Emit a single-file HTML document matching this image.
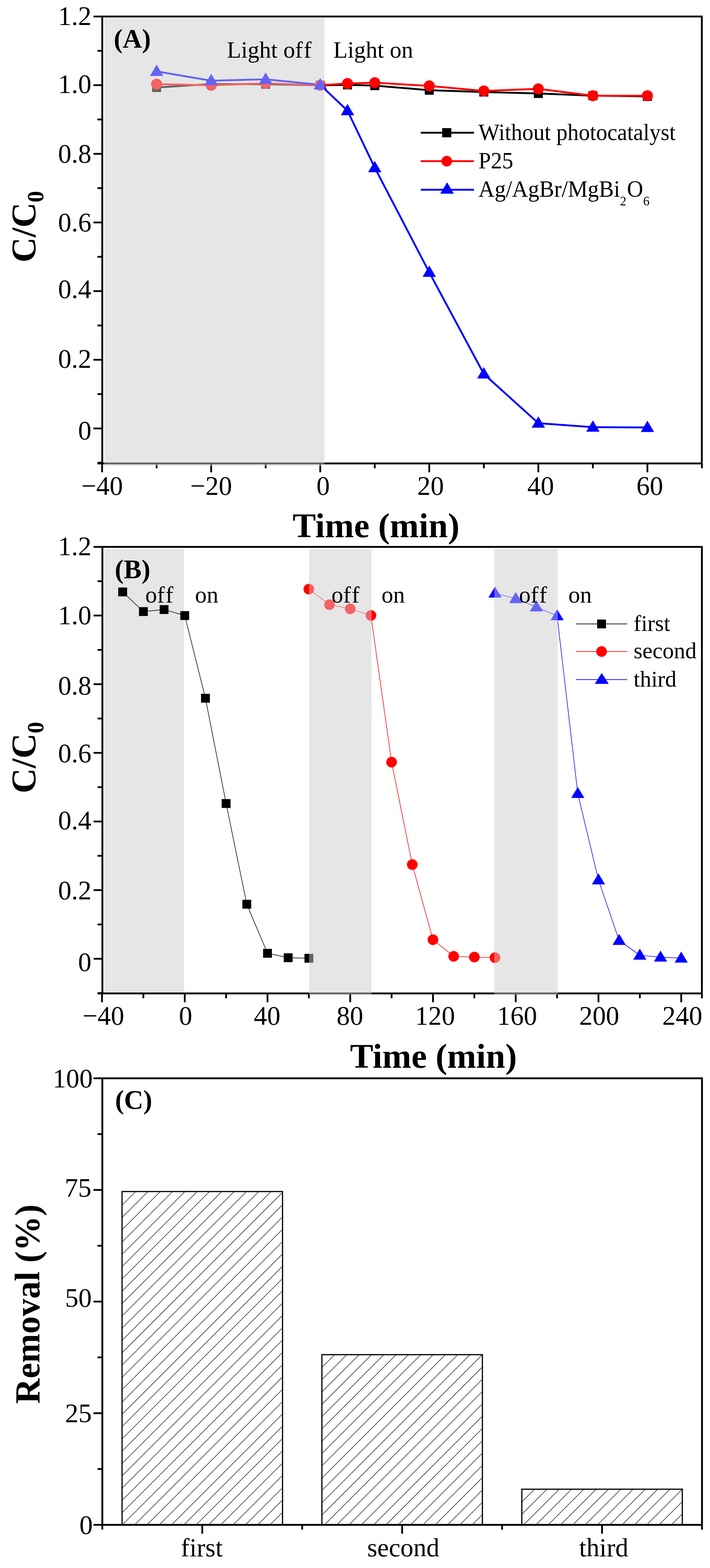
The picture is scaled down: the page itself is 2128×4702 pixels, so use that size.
<!DOCTYPE html>
<html><head><meta charset="utf-8"><title>Figure</title>
<style>
html,body{margin:0;padding:0;background:#fff;}
svg{display:block;}
text{font-family:"Liberation Serif", "Times New Roman", serif;fill:#000;}
</style></head>
<body>
<svg width="2128" height="4702" viewBox="0 0 2128 4702">
<rect width="2128" height="4702" fill="#fff"/>

<clipPath id="shA"><rect x="312.5" y="53.5" width="659.8" height="1343.3"/></clipPath>
<line x1="292" y1="1389.8" x2="2103.5" y2="1389.8" stroke="#000" stroke-width="5.5"/>
<line x1="306" y1="1389.8" x2="306" y2="1416.3" stroke="#000" stroke-width="5.3"/>
<line x1="632.9" y1="1389.8" x2="632.9" y2="1416.3" stroke="#000" stroke-width="5.3"/>
<line x1="959.8" y1="1389.8" x2="959.8" y2="1416.3" stroke="#000" stroke-width="5.3"/>
<line x1="1286.6" y1="1389.8" x2="1286.6" y2="1416.3" stroke="#000" stroke-width="5.3"/>
<line x1="1613.5" y1="1389.8" x2="1613.5" y2="1416.3" stroke="#000" stroke-width="5.3"/>
<line x1="1940.4" y1="1389.8" x2="1940.4" y2="1416.3" stroke="#000" stroke-width="5.3"/>
<line x1="469.4" y1="1389.8" x2="469.4" y2="1404.3" stroke="#000" stroke-width="5.3"/>
<line x1="796.3" y1="1389.8" x2="796.3" y2="1404.3" stroke="#000" stroke-width="5.3"/>
<line x1="1123.2" y1="1389.8" x2="1123.2" y2="1404.3" stroke="#000" stroke-width="5.3"/>
<line x1="1450.1" y1="1389.8" x2="1450.1" y2="1404.3" stroke="#000" stroke-width="5.3"/>
<line x1="1777" y1="1389.8" x2="1777" y2="1404.3" stroke="#000" stroke-width="5.3"/>
<line x1="2103.8" y1="1389.8" x2="2103.8" y2="1404.3" stroke="#000" stroke-width="5.3"/>
<polyline points="469.4,262.5 632.9,252 796.3,252.7 959.8,255.7 1041.5,254.5 1123.2,256.8 1286.6,270.5 1450.1,276 1613.5,280.3 1777,287 1940.4,289" fill="none" stroke="#000" stroke-width="5.6" stroke-linejoin="round"/>
<polyline points="469.4,252.3 632.9,255.8 796.3,250 959.8,255.7 1041.5,250.4 1123.2,248 1286.6,257.6 1450.1,272.7 1613.5,266.4 1777,287.1 1940.4,287.1" fill="none" stroke="#ff0000" stroke-width="5.6" stroke-linejoin="round"/>
<polyline points="469.4,214.1 632.9,242 796.3,237.8 959.8,254.3 1041.5,331.9 1123.2,502.8 1286.6,816.7 1450.1,1121.4 1613.5,1269 1777,1281 1940.4,1281.9" fill="none" stroke="#0000ff" stroke-width="5.6" stroke-linejoin="round"/>
<rect x="455.9" y="249" width="27" height="27" fill="#000"/>
<rect x="619.4" y="238.5" width="27" height="27" fill="#000"/>
<rect x="782.8" y="239.2" width="27" height="27" fill="#000"/>
<rect x="946.3" y="242.2" width="27" height="27" fill="#000"/>
<rect x="1028" y="241" width="27" height="27" fill="#000"/>
<rect x="1109.7" y="243.3" width="27" height="27" fill="#000"/>
<rect x="1273.1" y="257" width="27" height="27" fill="#000"/>
<rect x="1436.6" y="262.5" width="27" height="27" fill="#000"/>
<rect x="1600" y="266.8" width="27" height="27" fill="#000"/>
<rect x="1763.5" y="273.5" width="27" height="27" fill="#000"/>
<rect x="1926.9" y="275.5" width="27" height="27" fill="#000"/>
<circle cx="469.4" cy="252.3" r="16.5" fill="#ff0000"/>
<circle cx="632.9" cy="255.8" r="16.5" fill="#ff0000"/>
<circle cx="796.3" cy="250" r="16.5" fill="#ff0000"/>
<circle cx="959.8" cy="255.7" r="16.5" fill="#ff0000"/>
<circle cx="1041.5" cy="250.4" r="16.5" fill="#ff0000"/>
<circle cx="1123.2" cy="248" r="16.5" fill="#ff0000"/>
<circle cx="1286.6" cy="257.6" r="16.5" fill="#ff0000"/>
<circle cx="1450.1" cy="272.7" r="16.5" fill="#ff0000"/>
<circle cx="1613.5" cy="266.4" r="16.5" fill="#ff0000"/>
<circle cx="1777" cy="287.1" r="16.5" fill="#ff0000"/>
<circle cx="1940.4" cy="287.1" r="16.5" fill="#ff0000"/>
<polygon points="469.4,193.7 449.4,227.7 489.4,227.7" fill="#0000ff"/>
<polygon points="632.9,221.6 612.9,255.6 652.9,255.6" fill="#0000ff"/>
<polygon points="796.3,217.4 776.3,251.4 816.3,251.4" fill="#0000ff"/>
<polygon points="959.8,233.9 939.8,267.9 979.8,267.9" fill="#0000ff"/>
<polygon points="1041.5,311.5 1021.5,345.5 1061.5,345.5" fill="#0000ff"/>
<polygon points="1123.2,482.4 1103.2,516.4 1143.2,516.4" fill="#0000ff"/>
<polygon points="1286.6,796.3 1266.6,830.3 1306.6,830.3" fill="#0000ff"/>
<polygon points="1450.1,1101 1430.1,1135 1470.1,1135" fill="#0000ff"/>
<polygon points="1613.5,1248.6 1593.5,1282.6 1633.5,1282.6" fill="#0000ff"/>
<polygon points="1777,1260.6 1757,1294.6 1797,1294.6" fill="#0000ff"/>
<polygon points="1940.4,1261.5 1920.4,1295.5 1960.4,1295.5" fill="#0000ff"/>
<rect x="312.5" y="53.5" width="659.8" height="1343.3" fill="#e6e6e6"/>
<g clip-path="url(#shA)" opacity="0.57"><line x1="292" y1="1389.8" x2="2103.5" y2="1389.8" stroke="#000" stroke-width="5.5"/>
<line x1="306" y1="1389.8" x2="306" y2="1416.3" stroke="#000" stroke-width="5.3"/>
<line x1="632.9" y1="1389.8" x2="632.9" y2="1416.3" stroke="#000" stroke-width="5.3"/>
<line x1="959.8" y1="1389.8" x2="959.8" y2="1416.3" stroke="#000" stroke-width="5.3"/>
<line x1="1286.6" y1="1389.8" x2="1286.6" y2="1416.3" stroke="#000" stroke-width="5.3"/>
<line x1="1613.5" y1="1389.8" x2="1613.5" y2="1416.3" stroke="#000" stroke-width="5.3"/>
<line x1="1940.4" y1="1389.8" x2="1940.4" y2="1416.3" stroke="#000" stroke-width="5.3"/>
<line x1="469.4" y1="1389.8" x2="469.4" y2="1404.3" stroke="#000" stroke-width="5.3"/>
<line x1="796.3" y1="1389.8" x2="796.3" y2="1404.3" stroke="#000" stroke-width="5.3"/>
<line x1="1123.2" y1="1389.8" x2="1123.2" y2="1404.3" stroke="#000" stroke-width="5.3"/>
<line x1="1450.1" y1="1389.8" x2="1450.1" y2="1404.3" stroke="#000" stroke-width="5.3"/>
<line x1="1777" y1="1389.8" x2="1777" y2="1404.3" stroke="#000" stroke-width="5.3"/>
<line x1="2103.8" y1="1389.8" x2="2103.8" y2="1404.3" stroke="#000" stroke-width="5.3"/>
<polyline points="469.4,262.5 632.9,252 796.3,252.7 959.8,255.7 1041.5,254.5 1123.2,256.8 1286.6,270.5 1450.1,276 1613.5,280.3 1777,287 1940.4,289" fill="none" stroke="#000" stroke-width="5.6" stroke-linejoin="round"/>
<polyline points="469.4,252.3 632.9,255.8 796.3,250 959.8,255.7 1041.5,250.4 1123.2,248 1286.6,257.6 1450.1,272.7 1613.5,266.4 1777,287.1 1940.4,287.1" fill="none" stroke="#ff0000" stroke-width="5.6" stroke-linejoin="round"/>
<polyline points="469.4,214.1 632.9,242 796.3,237.8 959.8,254.3 1041.5,331.9 1123.2,502.8 1286.6,816.7 1450.1,1121.4 1613.5,1269 1777,1281 1940.4,1281.9" fill="none" stroke="#0000ff" stroke-width="5.6" stroke-linejoin="round"/>
<rect x="455.9" y="249" width="27" height="27" fill="#000"/>
<rect x="619.4" y="238.5" width="27" height="27" fill="#000"/>
<rect x="782.8" y="239.2" width="27" height="27" fill="#000"/>
<rect x="946.3" y="242.2" width="27" height="27" fill="#000"/>
<rect x="1028" y="241" width="27" height="27" fill="#000"/>
<rect x="1109.7" y="243.3" width="27" height="27" fill="#000"/>
<rect x="1273.1" y="257" width="27" height="27" fill="#000"/>
<rect x="1436.6" y="262.5" width="27" height="27" fill="#000"/>
<rect x="1600" y="266.8" width="27" height="27" fill="#000"/>
<rect x="1763.5" y="273.5" width="27" height="27" fill="#000"/>
<rect x="1926.9" y="275.5" width="27" height="27" fill="#000"/>
<circle cx="469.4" cy="252.3" r="16.5" fill="#ff0000"/>
<circle cx="632.9" cy="255.8" r="16.5" fill="#ff0000"/>
<circle cx="796.3" cy="250" r="16.5" fill="#ff0000"/>
<circle cx="959.8" cy="255.7" r="16.5" fill="#ff0000"/>
<circle cx="1041.5" cy="250.4" r="16.5" fill="#ff0000"/>
<circle cx="1123.2" cy="248" r="16.5" fill="#ff0000"/>
<circle cx="1286.6" cy="257.6" r="16.5" fill="#ff0000"/>
<circle cx="1450.1" cy="272.7" r="16.5" fill="#ff0000"/>
<circle cx="1613.5" cy="266.4" r="16.5" fill="#ff0000"/>
<circle cx="1777" cy="287.1" r="16.5" fill="#ff0000"/>
<circle cx="1940.4" cy="287.1" r="16.5" fill="#ff0000"/>
<polygon points="469.4,193.7 449.4,227.7 489.4,227.7" fill="#0000ff"/>
<polygon points="632.9,221.6 612.9,255.6 652.9,255.6" fill="#0000ff"/>
<polygon points="796.3,217.4 776.3,251.4 816.3,251.4" fill="#0000ff"/>
<polygon points="959.8,233.9 939.8,267.9 979.8,267.9" fill="#0000ff"/>
<polygon points="1041.5,311.5 1021.5,345.5 1061.5,345.5" fill="#0000ff"/>
<polygon points="1123.2,482.4 1103.2,516.4 1143.2,516.4" fill="#0000ff"/>
<polygon points="1286.6,796.3 1266.6,830.3 1306.6,830.3" fill="#0000ff"/>
<polygon points="1450.1,1101 1430.1,1135 1470.1,1135" fill="#0000ff"/>
<polygon points="1613.5,1248.6 1593.5,1282.6 1633.5,1282.6" fill="#0000ff"/>
<polygon points="1777,1260.6 1757,1294.6 1797,1294.6" fill="#0000ff"/>
<polygon points="1940.4,1261.5 1920.4,1295.5 1960.4,1295.5" fill="#0000ff"/></g>
<polyline points="306.5,1389.8 306.5,49.5 2103.5,49.5 2103.5,1389.8" fill="none" stroke="#000" stroke-width="5.5" stroke-linejoin="miter" stroke-linecap="square"/>
<line x1="280" y1="49.5" x2="306.5" y2="49.5" stroke="#000" stroke-width="5.3"/>
<line x1="280" y1="255.4" x2="306.5" y2="255.4" stroke="#000" stroke-width="5.3"/>
<line x1="280" y1="461.3" x2="306.5" y2="461.3" stroke="#000" stroke-width="5.3"/>
<line x1="280" y1="667.1" x2="306.5" y2="667.1" stroke="#000" stroke-width="5.3"/>
<line x1="280" y1="873" x2="306.5" y2="873" stroke="#000" stroke-width="5.3"/>
<line x1="280" y1="1078.9" x2="306.5" y2="1078.9" stroke="#000" stroke-width="5.3"/>
<line x1="280" y1="1284.8" x2="306.5" y2="1284.8" stroke="#000" stroke-width="5.3"/>
<line x1="292" y1="152.4" x2="306.5" y2="152.4" stroke="#000" stroke-width="5.3"/>
<line x1="292" y1="358.3" x2="306.5" y2="358.3" stroke="#000" stroke-width="5.3"/>
<line x1="292" y1="564.2" x2="306.5" y2="564.2" stroke="#000" stroke-width="5.3"/>
<line x1="292" y1="770.1" x2="306.5" y2="770.1" stroke="#000" stroke-width="5.3"/>
<line x1="292" y1="976" x2="306.5" y2="976" stroke="#000" stroke-width="5.3"/>
<line x1="292" y1="1181.8" x2="306.5" y2="1181.8" stroke="#000" stroke-width="5.3"/>
<line x1="292" y1="1387.7" x2="306.5" y2="1387.7" stroke="#000" stroke-width="5.3"/>
<text x="274" y="75.4" font-size="80" text-anchor="end" font-weight="normal">1.2</text>
<text x="274" y="278.6" font-size="80" text-anchor="end" font-weight="normal">1.0</text>
<text x="274" y="488.3" font-size="80" text-anchor="end" font-weight="normal">0.8</text>
<text x="274" y="694.4" font-size="80" text-anchor="end" font-weight="normal">0.6</text>
<text x="274" y="893.5" font-size="80" text-anchor="end" font-weight="normal">0.4</text>
<text x="274" y="1102.8" font-size="80" text-anchor="end" font-weight="normal">0.2</text>
<text x="274" y="1318.4" font-size="80" text-anchor="end" font-weight="normal">0</text>
<text x="306" y="1483.8" font-size="80" text-anchor="middle" font-weight="normal">−40</text>
<text x="632.9" y="1483.8" font-size="80" text-anchor="middle" font-weight="normal">−20</text>
<text x="968.4" y="1483.8" font-size="80" text-anchor="middle" font-weight="normal">0</text>
<text x="1290.6" y="1483.8" font-size="80" text-anchor="middle" font-weight="normal">20</text>
<text x="1620.5" y="1483.8" font-size="80" text-anchor="middle" font-weight="normal">40</text>
<text x="1947.4" y="1483.8" font-size="80" text-anchor="middle" font-weight="normal">60</text>
<text x="341" y="143.4" font-size="80" text-anchor="start" font-weight="bold">(A)</text>
<text x="680" y="173.4" font-size="70" text-anchor="start" font-weight="normal">Light o<tspan letter-spacing="4">ff</tspan></text>
<text x="999" y="173.4" font-size="70" text-anchor="start" font-weight="normal">Light on</text>
<line x1="1261" y1="398" x2="1420.6" y2="398" stroke="#000" stroke-width="5.5"/>
<rect x="1325.2" y="384.2" width="27.5" height="27.5" fill="#000"/>
<text transform="translate(1434,419.5) scale(1,1.055)" font-size="67">Without photocatalyst</text>
<line x1="1261" y1="483.3" x2="1420.6" y2="483.3" stroke="#ff0000" stroke-width="5.5"/>
<circle cx="1339" cy="483.3" r="16" fill="#ff0000"/>
<text transform="translate(1434,504.8) scale(1,1.055)" font-size="67">P25</text>
<line x1="1261" y1="569.1" x2="1420.6" y2="569.1" stroke="#0000ff" stroke-width="5.5"/>
<polygon points="1340,546.8 1319.5,580.8 1360.5,580.8" fill="#0000ff"/>
<text transform="translate(1434,589.5) scale(1,1.055)" font-size="67">Ag/AgBr/MgBi<tspan font-size="38" dy="25.3">2</tspan><tspan dy="-25.3" dx="2">O</tspan><tspan font-size="38" dy="25.3">6</tspan></text>
<text x="877" y="1610.5" font-size="104.5" text-anchor="start" font-weight="bold">Time (min)</text>
<text transform="translate(106,787) rotate(-90)" font-size="104.5" font-weight="bold">C/C<tspan font-size="69" dy="24">0</tspan></text>
<rect x="311.9" y="1646.5" width="239.9" height="1332.5" fill="#e6e6e6"/>
<line x1="292.4" y1="2979" x2="2103.7" y2="2979" stroke="#000" stroke-width="5.5"/>
<line x1="305.7" y1="2979" x2="305.7" y2="3005.5" stroke="#000" stroke-width="5.3"/>
<line x1="553.7" y1="2979" x2="553.7" y2="3005.5" stroke="#000" stroke-width="5.3"/>
<line x1="801.7" y1="2979" x2="801.7" y2="3005.5" stroke="#000" stroke-width="5.3"/>
<line x1="1049.7" y1="2979" x2="1049.7" y2="3005.5" stroke="#000" stroke-width="5.3"/>
<line x1="1297.7" y1="2979" x2="1297.7" y2="3005.5" stroke="#000" stroke-width="5.3"/>
<line x1="1545.7" y1="2979" x2="1545.7" y2="3005.5" stroke="#000" stroke-width="5.3"/>
<line x1="1793.7" y1="2979" x2="1793.7" y2="3005.5" stroke="#000" stroke-width="5.3"/>
<line x1="2041.7" y1="2979" x2="2041.7" y2="3005.5" stroke="#000" stroke-width="5.3"/>
<line x1="429.7" y1="2979" x2="429.7" y2="2993.5" stroke="#000" stroke-width="5.3"/>
<line x1="677.7" y1="2979" x2="677.7" y2="2993.5" stroke="#000" stroke-width="5.3"/>
<line x1="925.7" y1="2979" x2="925.7" y2="2993.5" stroke="#000" stroke-width="5.3"/>
<line x1="1173.7" y1="2979" x2="1173.7" y2="2993.5" stroke="#000" stroke-width="5.3"/>
<line x1="1421.7" y1="2979" x2="1421.7" y2="2993.5" stroke="#000" stroke-width="5.3"/>
<line x1="1669.7" y1="2979" x2="1669.7" y2="2993.5" stroke="#000" stroke-width="5.3"/>
<line x1="1917.7" y1="2979" x2="1917.7" y2="2993.5" stroke="#000" stroke-width="5.3"/>
<line x1="2103.7" y1="2979" x2="2103.7" y2="2993.5" stroke="#000" stroke-width="5.3"/>
<polyline points="367.7,1775 429.7,1833.9 491.7,1827.9 553.7,1845.9 615.7,2093.8 677.7,2409.6 739.7,2711.6 801.7,2858.7 863.7,2871.9 925.7,2873.7" fill="none" stroke="#000" stroke-width="1.7" stroke-linejoin="round"/>
<polyline points="925.7,1766.8 987.7,1813.2 1049.7,1825.7 1111.7,1845.5 1173.7,2285.5 1235.7,2592.6 1297.7,2817.9 1359.7,2867.7 1421.7,2870 1483.7,2871.7" fill="none" stroke="#ff0000" stroke-width="1.7" stroke-linejoin="round"/>
<polyline points="1483.7,1778.8 1545.7,1795.3 1607.7,1820.1 1669.7,1846.7 1731.7,2379.5 1793.7,2638.7 1855.7,2820.2 1917.7,2864.5 1979.7,2870.4 2041.7,2873.3" fill="none" stroke="#0000ff" stroke-width="1.7" stroke-linejoin="round"/>
<rect x="354.5" y="1761.8" width="26.5" height="26.5" fill="#000"/>
<rect x="416.5" y="1820.7" width="26.5" height="26.5" fill="#000"/>
<rect x="478.5" y="1814.7" width="26.5" height="26.5" fill="#000"/>
<rect x="540.5" y="1832.7" width="26.5" height="26.5" fill="#000"/>
<rect x="602.5" y="2080.6" width="26.5" height="26.5" fill="#000"/>
<rect x="664.5" y="2396.3" width="26.5" height="26.5" fill="#000"/>
<rect x="726.5" y="2698.3" width="26.5" height="26.5" fill="#000"/>
<rect x="788.5" y="2845.4" width="26.5" height="26.5" fill="#000"/>
<rect x="850.5" y="2858.7" width="26.5" height="26.5" fill="#000"/>
<rect x="912.5" y="2860.4" width="26.5" height="26.5" fill="#000"/>
<circle cx="925.7" cy="1766.8" r="16" fill="#ff0000"/>
<circle cx="987.7" cy="1813.2" r="16" fill="#ff0000"/>
<circle cx="1049.7" cy="1825.7" r="16" fill="#ff0000"/>
<circle cx="1111.7" cy="1845.5" r="16" fill="#ff0000"/>
<circle cx="1173.7" cy="2285.5" r="16" fill="#ff0000"/>
<circle cx="1235.7" cy="2592.6" r="16" fill="#ff0000"/>
<circle cx="1297.7" cy="2817.9" r="16" fill="#ff0000"/>
<circle cx="1359.7" cy="2867.7" r="16" fill="#ff0000"/>
<circle cx="1421.7" cy="2870" r="16" fill="#ff0000"/>
<circle cx="1483.7" cy="2871.7" r="16" fill="#ff0000"/>
<polygon points="1483.7,1759 1464,1792 1503.5,1792" fill="#0000ff"/>
<polygon points="1545.7,1775.5 1526,1808.5 1565.5,1808.5" fill="#0000ff"/>
<polygon points="1607.7,1800.3 1588,1833.3 1627.5,1833.3" fill="#0000ff"/>
<polygon points="1669.7,1826.9 1650,1859.9 1689.5,1859.9" fill="#0000ff"/>
<polygon points="1731.7,2359.7 1712,2392.7 1751.5,2392.7" fill="#0000ff"/>
<polygon points="1793.7,2618.9 1774,2651.9 1813.5,2651.9" fill="#0000ff"/>
<polygon points="1855.7,2800.4 1836,2833.4 1875.5,2833.4" fill="#0000ff"/>
<polygon points="1917.7,2844.7 1898,2877.7 1937.5,2877.7" fill="#0000ff"/>
<polygon points="1979.7,2850.6 1960,2883.6 1999.5,2883.6" fill="#0000ff"/>
<polygon points="2041.7,2853.5 2022,2886.5 2061.4,2886.5" fill="#0000ff"/>
<clipPath id="shB0"><rect x="926.4" y="1646" width="187" height="1336.5"/></clipPath>
<rect x="926.4" y="1646" width="187" height="1336.5" fill="#e6e6e6"/>
<g clip-path="url(#shB0)" opacity="0.57"><line x1="292.4" y1="2979" x2="2103.7" y2="2979" stroke="#000" stroke-width="5.5"/>
<line x1="305.7" y1="2979" x2="305.7" y2="3005.5" stroke="#000" stroke-width="5.3"/>
<line x1="553.7" y1="2979" x2="553.7" y2="3005.5" stroke="#000" stroke-width="5.3"/>
<line x1="801.7" y1="2979" x2="801.7" y2="3005.5" stroke="#000" stroke-width="5.3"/>
<line x1="1049.7" y1="2979" x2="1049.7" y2="3005.5" stroke="#000" stroke-width="5.3"/>
<line x1="1297.7" y1="2979" x2="1297.7" y2="3005.5" stroke="#000" stroke-width="5.3"/>
<line x1="1545.7" y1="2979" x2="1545.7" y2="3005.5" stroke="#000" stroke-width="5.3"/>
<line x1="1793.7" y1="2979" x2="1793.7" y2="3005.5" stroke="#000" stroke-width="5.3"/>
<line x1="2041.7" y1="2979" x2="2041.7" y2="3005.5" stroke="#000" stroke-width="5.3"/>
<line x1="429.7" y1="2979" x2="429.7" y2="2993.5" stroke="#000" stroke-width="5.3"/>
<line x1="677.7" y1="2979" x2="677.7" y2="2993.5" stroke="#000" stroke-width="5.3"/>
<line x1="925.7" y1="2979" x2="925.7" y2="2993.5" stroke="#000" stroke-width="5.3"/>
<line x1="1173.7" y1="2979" x2="1173.7" y2="2993.5" stroke="#000" stroke-width="5.3"/>
<line x1="1421.7" y1="2979" x2="1421.7" y2="2993.5" stroke="#000" stroke-width="5.3"/>
<line x1="1669.7" y1="2979" x2="1669.7" y2="2993.5" stroke="#000" stroke-width="5.3"/>
<line x1="1917.7" y1="2979" x2="1917.7" y2="2993.5" stroke="#000" stroke-width="5.3"/>
<line x1="2103.7" y1="2979" x2="2103.7" y2="2993.5" stroke="#000" stroke-width="5.3"/>
<polyline points="367.7,1775 429.7,1833.9 491.7,1827.9 553.7,1845.9 615.7,2093.8 677.7,2409.6 739.7,2711.6 801.7,2858.7 863.7,2871.9 925.7,2873.7" fill="none" stroke="#000" stroke-width="1.7" stroke-linejoin="round"/>
<polyline points="925.7,1766.8 987.7,1813.2 1049.7,1825.7 1111.7,1845.5 1173.7,2285.5 1235.7,2592.6 1297.7,2817.9 1359.7,2867.7 1421.7,2870 1483.7,2871.7" fill="none" stroke="#ff0000" stroke-width="1.7" stroke-linejoin="round"/>
<polyline points="1483.7,1778.8 1545.7,1795.3 1607.7,1820.1 1669.7,1846.7 1731.7,2379.5 1793.7,2638.7 1855.7,2820.2 1917.7,2864.5 1979.7,2870.4 2041.7,2873.3" fill="none" stroke="#0000ff" stroke-width="1.7" stroke-linejoin="round"/>
<rect x="354.5" y="1761.8" width="26.5" height="26.5" fill="#000"/>
<rect x="416.5" y="1820.7" width="26.5" height="26.5" fill="#000"/>
<rect x="478.5" y="1814.7" width="26.5" height="26.5" fill="#000"/>
<rect x="540.5" y="1832.7" width="26.5" height="26.5" fill="#000"/>
<rect x="602.5" y="2080.6" width="26.5" height="26.5" fill="#000"/>
<rect x="664.5" y="2396.3" width="26.5" height="26.5" fill="#000"/>
<rect x="726.5" y="2698.3" width="26.5" height="26.5" fill="#000"/>
<rect x="788.5" y="2845.4" width="26.5" height="26.5" fill="#000"/>
<rect x="850.5" y="2858.7" width="26.5" height="26.5" fill="#000"/>
<rect x="912.5" y="2860.4" width="26.5" height="26.5" fill="#000"/>
<circle cx="925.7" cy="1766.8" r="16" fill="#ff0000"/>
<circle cx="987.7" cy="1813.2" r="16" fill="#ff0000"/>
<circle cx="1049.7" cy="1825.7" r="16" fill="#ff0000"/>
<circle cx="1111.7" cy="1845.5" r="16" fill="#ff0000"/>
<circle cx="1173.7" cy="2285.5" r="16" fill="#ff0000"/>
<circle cx="1235.7" cy="2592.6" r="16" fill="#ff0000"/>
<circle cx="1297.7" cy="2817.9" r="16" fill="#ff0000"/>
<circle cx="1359.7" cy="2867.7" r="16" fill="#ff0000"/>
<circle cx="1421.7" cy="2870" r="16" fill="#ff0000"/>
<circle cx="1483.7" cy="2871.7" r="16" fill="#ff0000"/>
<polygon points="1483.7,1759 1464,1792 1503.5,1792" fill="#0000ff"/>
<polygon points="1545.7,1775.5 1526,1808.5 1565.5,1808.5" fill="#0000ff"/>
<polygon points="1607.7,1800.3 1588,1833.3 1627.5,1833.3" fill="#0000ff"/>
<polygon points="1669.7,1826.9 1650,1859.9 1689.5,1859.9" fill="#0000ff"/>
<polygon points="1731.7,2359.7 1712,2392.7 1751.5,2392.7" fill="#0000ff"/>
<polygon points="1793.7,2618.9 1774,2651.9 1813.5,2651.9" fill="#0000ff"/>
<polygon points="1855.7,2800.4 1836,2833.4 1875.5,2833.4" fill="#0000ff"/>
<polygon points="1917.7,2844.7 1898,2877.7 1937.5,2877.7" fill="#0000ff"/>
<polygon points="1979.7,2850.6 1960,2883.6 1999.5,2883.6" fill="#0000ff"/>
<polygon points="2041.7,2853.5 2022,2886.5 2061.4,2886.5" fill="#0000ff"/></g>
<clipPath id="shB1"><rect x="1481.7" y="1646" width="189.8" height="1336.5"/></clipPath>
<rect x="1481.7" y="1646" width="189.8" height="1336.5" fill="#e6e6e6"/>
<g clip-path="url(#shB1)" opacity="0.57"><line x1="292.4" y1="2979" x2="2103.7" y2="2979" stroke="#000" stroke-width="5.5"/>
<line x1="305.7" y1="2979" x2="305.7" y2="3005.5" stroke="#000" stroke-width="5.3"/>
<line x1="553.7" y1="2979" x2="553.7" y2="3005.5" stroke="#000" stroke-width="5.3"/>
<line x1="801.7" y1="2979" x2="801.7" y2="3005.5" stroke="#000" stroke-width="5.3"/>
<line x1="1049.7" y1="2979" x2="1049.7" y2="3005.5" stroke="#000" stroke-width="5.3"/>
<line x1="1297.7" y1="2979" x2="1297.7" y2="3005.5" stroke="#000" stroke-width="5.3"/>
<line x1="1545.7" y1="2979" x2="1545.7" y2="3005.5" stroke="#000" stroke-width="5.3"/>
<line x1="1793.7" y1="2979" x2="1793.7" y2="3005.5" stroke="#000" stroke-width="5.3"/>
<line x1="2041.7" y1="2979" x2="2041.7" y2="3005.5" stroke="#000" stroke-width="5.3"/>
<line x1="429.7" y1="2979" x2="429.7" y2="2993.5" stroke="#000" stroke-width="5.3"/>
<line x1="677.7" y1="2979" x2="677.7" y2="2993.5" stroke="#000" stroke-width="5.3"/>
<line x1="925.7" y1="2979" x2="925.7" y2="2993.5" stroke="#000" stroke-width="5.3"/>
<line x1="1173.7" y1="2979" x2="1173.7" y2="2993.5" stroke="#000" stroke-width="5.3"/>
<line x1="1421.7" y1="2979" x2="1421.7" y2="2993.5" stroke="#000" stroke-width="5.3"/>
<line x1="1669.7" y1="2979" x2="1669.7" y2="2993.5" stroke="#000" stroke-width="5.3"/>
<line x1="1917.7" y1="2979" x2="1917.7" y2="2993.5" stroke="#000" stroke-width="5.3"/>
<line x1="2103.7" y1="2979" x2="2103.7" y2="2993.5" stroke="#000" stroke-width="5.3"/>
<polyline points="367.7,1775 429.7,1833.9 491.7,1827.9 553.7,1845.9 615.7,2093.8 677.7,2409.6 739.7,2711.6 801.7,2858.7 863.7,2871.9 925.7,2873.7" fill="none" stroke="#000" stroke-width="1.7" stroke-linejoin="round"/>
<polyline points="925.7,1766.8 987.7,1813.2 1049.7,1825.7 1111.7,1845.5 1173.7,2285.5 1235.7,2592.6 1297.7,2817.9 1359.7,2867.7 1421.7,2870 1483.7,2871.7" fill="none" stroke="#ff0000" stroke-width="1.7" stroke-linejoin="round"/>
<polyline points="1483.7,1778.8 1545.7,1795.3 1607.7,1820.1 1669.7,1846.7 1731.7,2379.5 1793.7,2638.7 1855.7,2820.2 1917.7,2864.5 1979.7,2870.4 2041.7,2873.3" fill="none" stroke="#0000ff" stroke-width="1.7" stroke-linejoin="round"/>
<rect x="354.5" y="1761.8" width="26.5" height="26.5" fill="#000"/>
<rect x="416.5" y="1820.7" width="26.5" height="26.5" fill="#000"/>
<rect x="478.5" y="1814.7" width="26.5" height="26.5" fill="#000"/>
<rect x="540.5" y="1832.7" width="26.5" height="26.5" fill="#000"/>
<rect x="602.5" y="2080.6" width="26.5" height="26.5" fill="#000"/>
<rect x="664.5" y="2396.3" width="26.5" height="26.5" fill="#000"/>
<rect x="726.5" y="2698.3" width="26.5" height="26.5" fill="#000"/>
<rect x="788.5" y="2845.4" width="26.5" height="26.5" fill="#000"/>
<rect x="850.5" y="2858.7" width="26.5" height="26.5" fill="#000"/>
<rect x="912.5" y="2860.4" width="26.5" height="26.5" fill="#000"/>
<circle cx="925.7" cy="1766.8" r="16" fill="#ff0000"/>
<circle cx="987.7" cy="1813.2" r="16" fill="#ff0000"/>
<circle cx="1049.7" cy="1825.7" r="16" fill="#ff0000"/>
<circle cx="1111.7" cy="1845.5" r="16" fill="#ff0000"/>
<circle cx="1173.7" cy="2285.5" r="16" fill="#ff0000"/>
<circle cx="1235.7" cy="2592.6" r="16" fill="#ff0000"/>
<circle cx="1297.7" cy="2817.9" r="16" fill="#ff0000"/>
<circle cx="1359.7" cy="2867.7" r="16" fill="#ff0000"/>
<circle cx="1421.7" cy="2870" r="16" fill="#ff0000"/>
<circle cx="1483.7" cy="2871.7" r="16" fill="#ff0000"/>
<polygon points="1483.7,1759 1464,1792 1503.5,1792" fill="#0000ff"/>
<polygon points="1545.7,1775.5 1526,1808.5 1565.5,1808.5" fill="#0000ff"/>
<polygon points="1607.7,1800.3 1588,1833.3 1627.5,1833.3" fill="#0000ff"/>
<polygon points="1669.7,1826.9 1650,1859.9 1689.5,1859.9" fill="#0000ff"/>
<polygon points="1731.7,2359.7 1712,2392.7 1751.5,2392.7" fill="#0000ff"/>
<polygon points="1793.7,2618.9 1774,2651.9 1813.5,2651.9" fill="#0000ff"/>
<polygon points="1855.7,2800.4 1836,2833.4 1875.5,2833.4" fill="#0000ff"/>
<polygon points="1917.7,2844.7 1898,2877.7 1937.5,2877.7" fill="#0000ff"/>
<polygon points="1979.7,2850.6 1960,2883.6 1999.5,2883.6" fill="#0000ff"/>
<polygon points="2041.7,2853.5 2022,2886.5 2061.4,2886.5" fill="#0000ff"/></g>
<polyline points="306.9,2979 306.9,1640 2103.7,1640 2103.7,2979" fill="none" stroke="#000" stroke-width="5.5" stroke-linecap="square"/>
<line x1="280.4" y1="1640" x2="306.9" y2="1640" stroke="#000" stroke-width="5.3"/>
<line x1="280.4" y1="1845.8" x2="306.9" y2="1845.8" stroke="#000" stroke-width="5.3"/>
<line x1="280.4" y1="2051.7" x2="306.9" y2="2051.7" stroke="#000" stroke-width="5.3"/>
<line x1="280.4" y1="2257.6" x2="306.9" y2="2257.6" stroke="#000" stroke-width="5.3"/>
<line x1="280.4" y1="2463.4" x2="306.9" y2="2463.4" stroke="#000" stroke-width="5.3"/>
<line x1="280.4" y1="2669.2" x2="306.9" y2="2669.2" stroke="#000" stroke-width="5.3"/>
<line x1="280.4" y1="2875.1" x2="306.9" y2="2875.1" stroke="#000" stroke-width="5.3"/>
<line x1="292.4" y1="1742.9" x2="306.9" y2="1742.9" stroke="#000" stroke-width="5.3"/>
<line x1="292.4" y1="1948.8" x2="306.9" y2="1948.8" stroke="#000" stroke-width="5.3"/>
<line x1="292.4" y1="2154.6" x2="306.9" y2="2154.6" stroke="#000" stroke-width="5.3"/>
<line x1="292.4" y1="2360.5" x2="306.9" y2="2360.5" stroke="#000" stroke-width="5.3"/>
<line x1="292.4" y1="2566.3" x2="306.9" y2="2566.3" stroke="#000" stroke-width="5.3"/>
<line x1="292.4" y1="2772.2" x2="306.9" y2="2772.2" stroke="#000" stroke-width="5.3"/>
<line x1="292.4" y1="2978" x2="306.9" y2="2978" stroke="#000" stroke-width="5.3"/>
<text x="274" y="1665.2" font-size="80" text-anchor="end" font-weight="normal">1.2</text>
<text x="274" y="1871.8" font-size="80" text-anchor="end" font-weight="normal">1.0</text>
<text x="274" y="2082.8" font-size="80" text-anchor="end" font-weight="normal">0.8</text>
<text x="274" y="2286.2" font-size="80" text-anchor="end" font-weight="normal">0.6</text>
<text x="274" y="2486.6" font-size="80" text-anchor="end" font-weight="normal">0.4</text>
<text x="274" y="2696.5" font-size="80" text-anchor="end" font-weight="normal">0.2</text>
<text x="274" y="2912.1" font-size="80" text-anchor="end" font-weight="normal">0</text>
<text x="309.7" y="3073" font-size="80" text-anchor="middle" font-weight="normal">−40</text>
<text x="556.3" y="3073" font-size="80" text-anchor="middle" font-weight="normal">0</text>
<text x="800.4" y="3073" font-size="80" text-anchor="middle" font-weight="normal">40</text>
<text x="1048.7" y="3073" font-size="80" text-anchor="middle" font-weight="normal">80</text>
<text x="1303.7" y="3073" font-size="80" text-anchor="middle" font-weight="normal">120</text>
<text x="1549.7" y="3073" font-size="80" text-anchor="middle" font-weight="normal">160</text>
<text x="1796" y="3073" font-size="80" text-anchor="middle" font-weight="normal">200</text>
<text x="2045.1" y="3073" font-size="80" text-anchor="middle" font-weight="normal">240</text>
<text x="344" y="1733.5" font-size="80" text-anchor="start" font-weight="bold">(B)</text>
<text x="435.5" y="1806.5" font-size="70" text-anchor="start" font-weight="normal">o<tspan letter-spacing="3.5">ff</tspan></text>
<text x="584.5" y="1806.5" font-size="70" text-anchor="start" font-weight="normal">on</text>
<text x="993.5" y="1806.5" font-size="70" text-anchor="start" font-weight="normal">o<tspan letter-spacing="3.5">ff</tspan></text>
<text x="1143.5" y="1806.5" font-size="70" text-anchor="start" font-weight="normal">on</text>
<text x="1555.5" y="1806.5" font-size="70" text-anchor="start" font-weight="normal">o<tspan letter-spacing="3.5">ff</tspan></text>
<text x="1703.5" y="1806.5" font-size="70" text-anchor="start" font-weight="normal">on</text>
<line x1="1726" y1="1871.1" x2="1880" y2="1871.1" stroke="#000" stroke-width="2"/>
<rect x="1789.8" y="1857.8" width="26.5" height="26.5" fill="#000"/>
<text x="1899" y="1891.6" font-size="68" text-anchor="start" font-weight="normal">first</text>
<line x1="1726" y1="1953.7" x2="1880" y2="1953.7" stroke="#ff0000" stroke-width="2"/>
<circle cx="1803" cy="1953.7" r="16" fill="#ff0000"/>
<text x="1899" y="1974.2" font-size="68" text-anchor="start" font-weight="normal">second</text>
<line x1="1726" y1="2038" x2="1880" y2="2038" stroke="#0000ff" stroke-width="2"/>
<polygon points="1803.5,2018.1 1782.5,2050.8 1824.5,2050.8" fill="#0000ff"/>
<text x="1899" y="2058.5" font-size="68" text-anchor="start" font-weight="normal">third</text>
<text x="1049" y="3202" font-size="104.5" text-anchor="start" font-weight="bold">Time (min)</text>
<text transform="translate(106,2379) rotate(-90)" font-size="104.5" font-weight="bold">C/C<tspan font-size="69" dy="24">0</tspan></text>
<clipPath id="cb0"><rect x="365.8" y="3573.1" width="481" height="999.5"/></clipPath>
<path clip-path="url(#cb0)" d="M-594.9,4574.6L408.7,3571.1M-558,4574.6L445.6,3571.1M-521.1,4574.6L482.4,3571.1M-484.2,4574.6L519.3,3571.1M-447.3,4574.6L556.2,3571.1M-410.4,4574.6L593.1,3571.1M-373.5,4574.6L630.1,3571.1M-336.6,4574.6L666.9,3571.1M-299.7,4574.6L703.9,3571.1M-262.8,4574.6L740.8,3571.1M-225.9,4574.6L777.6,3571.1M-189,4574.6L814.6,3571.1M-152.1,4574.6L851.4,3571.1M-115.2,4574.6L888.4,3571.1M-78.3,4574.6L925.2,3571.1M-41.4,4574.6L962.1,3571.1M-4.5,4574.6L999.1,3571.1M32.4,4574.6L1035.9,3571.1M69.3,4574.6L1072.9,3571.1M106.2,4574.6L1109.8,3571.1M143.1,4574.6L1146.6,3571.1M180,4574.6L1183.6,3571.1M216.9,4574.6L1220.4,3571.1M253.8,4574.6L1257.4,3571.1M290.7,4574.6L1294.2,3571.1M327.6,4574.6L1331.1,3571.1M364.5,4574.6L1368.1,3571.1M401.4,4574.6L1404.9,3571.1M438.3,4574.6L1441.9,3571.1M475.2,4574.6L1478.8,3571.1M512.1,4574.6L1515.6,3571.1M549,4574.6L1552.6,3571.1M585.9,4574.6L1589.4,3571.1M622.8,4574.6L1626.4,3571.1M659.7,4574.6L1663.2,3571.1M696.6,4574.6L1700.1,3571.1M733.5,4574.6L1737.1,3571.1M770.4,4574.6L1773.9,3571.1M807.3,4574.6L1810.9,3571.1M844.2,4574.6L1847.8,3571.1" stroke="#444" stroke-width="2" fill="none"/>
<rect x="365.8" y="3573.1" width="481" height="999.5" fill="none" stroke="#000" stroke-width="3.5"/>
<clipPath id="cb1"><rect x="964.8" y="4062.3" width="481" height="510.3"/></clipPath>
<path clip-path="url(#cb1)" d="M490.6,4574.6L1004.9,4060.3M527.5,4574.6L1041.8,4060.3M564.4,4574.6L1078.7,4060.3M601.3,4574.6L1115.7,4060.3M638.2,4574.6L1152.5,4060.3M675.1,4574.6L1189.4,4060.3M712,4574.6L1226.3,4060.3M748.9,4574.6L1263.2,4060.3M785.8,4574.6L1300.2,4060.3M822.7,4574.6L1337,4060.3M859.6,4574.6L1373.9,4060.3M896.5,4574.6L1410.8,4060.3M933.4,4574.6L1447.7,4060.3M970.3,4574.6L1484.7,4060.3M1007.2,4574.6L1521.5,4060.3M1044.1,4574.6L1558.4,4060.3M1081,4574.6L1595.3,4060.3M1117.9,4574.6L1632.2,4060.3M1154.8,4574.6L1669.2,4060.3M1191.7,4574.6L1706,4060.3M1228.6,4574.6L1742.9,4060.3M1265.5,4574.6L1779.8,4060.3M1302.4,4574.6L1816.7,4060.3M1339.3,4574.6L1853.7,4060.3M1376.2,4574.6L1890.5,4060.3M1413.1,4574.6L1927.4,4060.3" stroke="#444" stroke-width="2" fill="none"/>
<rect x="964.8" y="4062.3" width="481" height="510.3" fill="none" stroke="#000" stroke-width="3.5"/>
<clipPath id="cb2"><rect x="1564" y="4465.7" width="481" height="106.9"/></clipPath>
<path clip-path="url(#cb2)" d="M1493.5,4574.6L1604.3,4463.7M1530.4,4574.6L1641.2,4463.7M1567.3,4574.6L1678.1,4463.7M1604.2,4574.6L1715.1,4463.7M1641.1,4574.6L1751.9,4463.7M1678,4574.6L1788.8,4463.7M1714.9,4574.6L1825.8,4463.7M1751.8,4574.6L1862.6,4463.7M1788.7,4574.6L1899.6,4463.7M1825.6,4574.6L1936.4,4463.7M1862.5,4574.6L1973.3,4463.7M1899.4,4574.6L2010.2,4463.7M1936.3,4574.6L2047.1,4463.7M1973.2,4574.6L2084.1,4463.7M2010.1,4574.6L2120.9,4463.7M2047,4574.6L2157.8,4463.7" stroke="#444" stroke-width="2" fill="none"/>
<rect x="1564" y="4465.7" width="481" height="106.9" fill="none" stroke="#000" stroke-width="3.5"/>
<rect x="306.7" y="3233.5" width="1797.3" height="1339.1" fill="none" stroke="#000" stroke-width="5.5"/>
<line x1="280.2" y1="3233.5" x2="306.7" y2="3233.5" stroke="#000" stroke-width="5.3"/>
<line x1="280.2" y1="3568.3" x2="306.7" y2="3568.3" stroke="#000" stroke-width="5.3"/>
<line x1="280.2" y1="3903.1" x2="306.7" y2="3903.1" stroke="#000" stroke-width="5.3"/>
<line x1="280.2" y1="4237.8" x2="306.7" y2="4237.8" stroke="#000" stroke-width="5.3"/>
<line x1="280.2" y1="4572.6" x2="306.7" y2="4572.6" stroke="#000" stroke-width="5.3"/>
<line x1="292.2" y1="3400.9" x2="306.7" y2="3400.9" stroke="#000" stroke-width="5.3"/>
<line x1="292.2" y1="3735.7" x2="306.7" y2="3735.7" stroke="#000" stroke-width="5.3"/>
<line x1="292.2" y1="4070.4" x2="306.7" y2="4070.4" stroke="#000" stroke-width="5.3"/>
<line x1="292.2" y1="4405.2" x2="306.7" y2="4405.2" stroke="#000" stroke-width="5.3"/>
<text x="278" y="3260.7" font-size="80" text-anchor="end" font-weight="normal">100</text>
<text x="274" y="3589" font-size="80" text-anchor="end" font-weight="normal">75</text>
<text x="275" y="3919.3" font-size="80" text-anchor="end" font-weight="normal">50</text>
<text x="275" y="4264.6" font-size="80" text-anchor="end" font-weight="normal">25</text>
<text x="278" y="4599.5" font-size="80" text-anchor="end" font-weight="normal">0</text>
<line x1="606.2" y1="4572.6" x2="606.2" y2="4599.1" stroke="#000" stroke-width="5.3"/>
<line x1="1205.3" y1="4572.6" x2="1205.3" y2="4599.1" stroke="#000" stroke-width="5.3"/>
<line x1="1804.5" y1="4572.6" x2="1804.5" y2="4599.1" stroke="#000" stroke-width="5.3"/>
<line x1="306.7" y1="4572.6" x2="306.7" y2="4587.1" stroke="#000" stroke-width="5.3"/>
<line x1="905.8" y1="4572.6" x2="905.8" y2="4587.1" stroke="#000" stroke-width="5.3"/>
<line x1="1504.9" y1="4572.6" x2="1504.9" y2="4587.1" stroke="#000" stroke-width="5.3"/>
<line x1="2104" y1="4572.6" x2="2104" y2="4587.1" stroke="#000" stroke-width="5.3"/>
<text x="604.8" y="4666.6" font-size="78" text-anchor="middle" font-weight="normal">first</text>
<text x="1208.8" y="4666.6" font-size="78" text-anchor="middle" font-weight="normal">second</text>
<text x="1809.5" y="4666.6" font-size="78" text-anchor="middle" font-weight="normal">third</text>
<text x="345" y="3325" font-size="80" text-anchor="start" font-weight="bold">(C)</text>
<text transform="translate(118,3910.5) rotate(-90)" font-size="105" font-weight="bold" text-anchor="middle">Removal (%)</text>
</svg>
</body></html>
